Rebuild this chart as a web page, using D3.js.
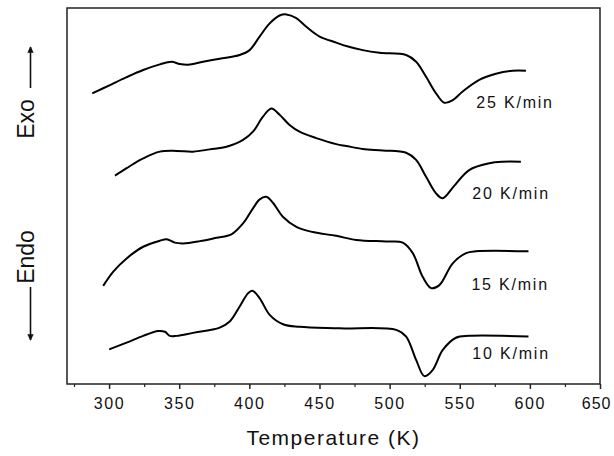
<!DOCTYPE html>
<html>
<head>
<meta charset="utf-8">
<script src="https://cdn.jsdelivr.net/npm/d3@7"></script>
<style>
    body { margin: 0; background: #fff; }
    svg text { font-family: "Liberation Sans", Arial, sans-serif; fill: #111; }
</style>
</head>
<body>
<div id="chart"></div>
<script>
// heating rates, top to bottom
var rates = ["25 K/min", "20 K/min", "15 K/min", "10 K/min"];

// temperature (K) / heat flow (a.u., curves already offset)
var temp25 = [288.0, 300.6, 312.5, 324.3, 336.2, 344.5, 350.4, 356.3, 367.0, 378.9, 393.1, 400.2, 407.3, 414.5, 421.6, 426.4, 433.5, 440.6, 450.1, 462.0, 469.1, 480.9, 492.8, 511.8, 518.9, 526.0, 533.1, 539.0, 545.0, 552.1, 563.9, 575.8, 587.7, 597.2];
var flow25 = [77.3, 79.5, 81.6, 83.5, 85.0, 85.7, 85.1, 84.9, 85.7, 86.5, 87.5, 88.8, 92.4, 95.9, 98.0, 98.3, 97.3, 95.0, 92.4, 90.8, 89.9, 88.8, 88.1, 87.5, 85.7, 81.7, 77.3, 74.8, 75.5, 77.8, 80.9, 82.5, 83.3, 83.3];

var temp20 = [304.2, 312.5, 324.3, 336.2, 348.1, 359.9, 371.8, 383.7, 395.5, 402.6, 409.7, 415.7, 421.6, 428.7, 435.8, 447.7, 462.0, 469.1, 480.9, 495.1, 511.8, 518.9, 526.0, 533.1, 537.8, 545.6, 556.7, 571.1, 580.5, 593.6];
var flow20 = [55.4, 57.4, 60.0, 61.8, 62.0, 61.8, 62.4, 63.1, 64.9, 67.1, 71.1, 73.3, 71.6, 68.9, 67.1, 65.4, 63.8, 63.3, 62.5, 62.1, 61.5, 59.6, 55.1, 50.7, 49.4, 52.5, 56.9, 58.7, 59.1, 59.1];

var temp15 = [295.8, 303.0, 312.5, 324.3, 336.2, 341.0, 346.9, 352.8, 364.7, 376.5, 387.2, 395.5, 402.6, 407.4, 412.1, 416.8, 423.9, 433.5, 445.3, 462.0, 476.2, 497.5, 509.4, 516.5, 523.6, 529.6, 535.5, 545.0, 554.5, 561.6, 599.0];
var flow15 = [26.1, 29.9, 33.4, 36.5, 38.1, 38.5, 37.6, 37.4, 38.0, 38.9, 39.8, 42.7, 46.7, 49.1, 49.8, 48.2, 44.5, 41.8, 40.4, 39.4, 38.3, 37.9, 37.6, 34.8, 28.5, 25.5, 26.3, 32.1, 34.8, 35.3, 35.3];

var temp10 = [300.1, 312.5, 324.3, 335.0, 339.8, 343.3, 348.1, 359.9, 378.9, 386.0, 393.1, 399.0, 402.2, 407.4, 414.5, 424.0, 435.8, 464.3, 504.7, 511.8, 518.9, 524.8, 530.7, 537.8, 547.3, 556.8, 599.0];
var flow10 = [9.2, 11.0, 12.8, 14.1, 13.9, 12.8, 12.8, 13.6, 15.0, 16.6, 20.6, 24.1, 24.8, 22.8, 18.4, 15.9, 15.2, 14.8, 14.4, 12.6, 6.4, 2.1, 3.7, 9.0, 12.3, 12.8, 12.6];

// where each rate label sits (data coords, start of text)
var labelTemp = [561.8, 559.0, 558.3, 559.0];
var labelFlow = [73.4, 49.2, 25.0, 6.7];

var xTicks = [300, 350, 400, 450, 500, 550, 600, 650];
var xMinor = [275, 325, 375, 425, 475, 525, 575, 625];

var width = 614, height = 456;
var margin = {top: 8, right: 14, bottom: 72, left: 67};
var innerW = width - margin.left - margin.right;
var innerH = height - margin.top - margin.bottom;

var svg = d3.select("#chart").append("svg")
    .attr("width", width)
    .attr("height", height);

var g = svg.append("g")
    .attr("transform", "translate(" + margin.left + "," + margin.top + ")");

var x = d3.scaleLinear().domain([270, 650]).range([0, innerW]);
var y = d3.scaleLinear().domain([0, 100]).range([innerH, 0]);

function pairs(ts, vs) {
    return ts.map(function(t, i){ return [t, vs[i]]; });
}
var series = [pairs(temp25, flow25), pairs(temp20, flow20), pairs(temp15, flow15), pairs(temp10, flow10)];

var line = d3.line()
    .x(function(d){ return x(d[0]); })
    .y(function(d){ return y(d[1]); })
    .curve(d3.curveCatmullRom.alpha(0.5));

g.selectAll("path.curve")
    .data(series)
    .enter()
    .append("path")
    .attr("class", "curve")
    .attr("d", line)
    .attr("fill", "none")
    .attr("stroke", "#000")
    .attr("stroke-width", 2)
    .attr("stroke-linejoin", "round");

g.selectAll("text.rate")
    .data(rates)
    .enter()
    .append("text")
    .attr("class", "rate")
    .attr("x", function(d, i){ return x(labelTemp[i]); })
    .attr("y", function(d, i){ return y(labelFlow[i]); })
    .attr("font-size", 16)
    .attr("letter-spacing", 1.8)
    .text(function(d){ return d; });

// bottom axis, major + minor ticks
var xAxis = d3.axisBottom(x).tickValues(xTicks).tickSize(5).tickPadding(9).tickFormat(d3.format("d"));
var ax = g.append("g")
    .attr("transform", "translate(0," + innerH + ")")
    .call(xAxis);
ax.select(".domain").remove();
ax.selectAll("line").attr("stroke", "#222").attr("stroke-width", 1.5);
ax.selectAll("text")
    .attr("font-size", 16)
    .attr("letter-spacing", 1.6)
    .attr("fill", "#111")
    .style("font-family", "'Liberation Sans', Arial, sans-serif");
// last label sits flush with the right edge, as in the figure
ax.selectAll(".tick").filter(function(d){ return d === 650; })
    .select("text")
    .attr("text-anchor", "end")
    .attr("letter-spacing", 1)
    .attr("x", 11);

var minorAxis = d3.axisBottom(x).tickValues(xMinor).tickSize(3).tickFormat("");
var mx = g.append("g")
    .attr("transform", "translate(0," + innerH + ")")
    .call(minorAxis);
mx.select(".domain").remove();
mx.selectAll("line").attr("stroke", "#222").attr("stroke-width", 1.2);

// frame
g.append("rect")
    .attr("x", 0).attr("y", 0)
    .attr("width", innerW).attr("height", innerH)
    .attr("fill", "none")
    .attr("stroke", "#222")
    .attr("stroke-width", 1.5);

svg.append("text")
    .attr("x", margin.left + innerW / 2)
    .attr("y", 445)
    .attr("text-anchor", "middle")
    .attr("font-size", 21)
    .attr("letter-spacing", 1.5)
    .text("Temperature (K)");

// Exo / Endo side marks
var defs = svg.append("defs");
defs.append("marker")
    .attr("id", "arrow")
    .attr("viewBox", "0 0 10 10")
    .attr("refX", 9).attr("refY", 5)
    .attr("markerWidth", 4).attr("markerHeight", 4)
    .attr("orient", "auto")
    .append("path")
    .attr("d", "M0,0L10,5L0,10z")
    .attr("fill", "#111");

var side = svg.append("g");
side.append("text")
    .attr("transform", "translate(34,119) rotate(-90)")
    .attr("text-anchor", "middle")
    .attr("font-size", 23)
    .text("Exo");
side.append("line")
    .attr("x1", 30.5).attr("y1", 88)
    .attr("x2", 30.5).attr("y2", 47)
    .attr("stroke", "#111").attr("stroke-width", 1.6)
    .attr("marker-end", "url(#arrow)");

side.append("text")
    .attr("transform", "translate(34,257) rotate(-90)")
    .attr("text-anchor", "middle")
    .attr("font-size", 23)
    .text("Endo");
side.append("line")
    .attr("x1", 30.5).attr("y1", 287)
    .attr("x2", 30.5).attr("y2", 340)
    .attr("stroke", "#111").attr("stroke-width", 1.6)
    .attr("marker-end", "url(#arrow)");
</script>
</body>
</html>
